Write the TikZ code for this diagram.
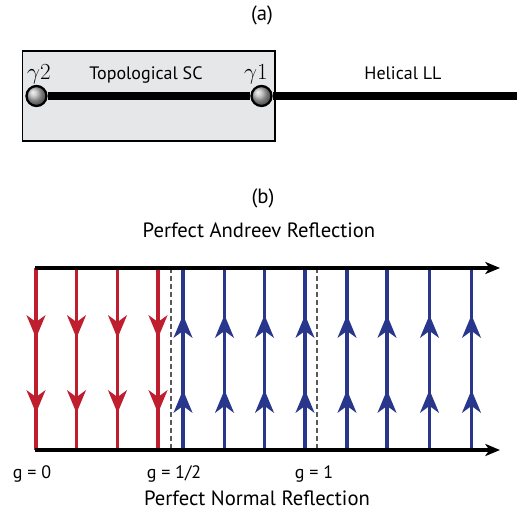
\documentclass[tikz,border=0pt]{standalone}
\usepackage{fontspec}
\setsansfont{PT Sans}
\definecolor{andreevred}{RGB}{190,30,45}
\definecolor{normalblue}{RGB}{40,55,140}
\definecolor{scgray}{RGB}{230,231,232}
\usetikzlibrary{arrows.meta}
\usetikzlibrary{decorations.markings}

\tikzset{
	label text/.style={font=\sffamily\fontsize{13.5}{16}\selectfont, inner sep=0pt, anchor=base},
	title text/.style={font=\sffamily\fontsize{15.5}{18}\selectfont, inner sep=0pt, anchor=base},
	gamma text/.style={font=\fontsize{17}{19}\selectfont, inner sep=0pt, anchor=base},
	majorana/.style={circle, draw=black, line width=1.7pt, minimum size=15pt, inner sep=0pt, shading=ball, ball color=gray!60},
	wire/.style={line width=6pt},
	axis/.style={line width=2.8pt, -{Stealth[length=11pt,width=9pt,inset=3pt]}},
	flowhead/.tip={Stealth[length=17pt,width=14pt,inset=5pt]},
	downflow/.style={andreevred, line width=2.8pt, postaction={decorate},
		decoration={markings, mark=at position 0.385 with {\arrow{flowhead}}, mark=at position 0.797 with {\arrow{flowhead}}}},
	upflow/.style={normalblue, line width=2.8pt, postaction={decorate},
		decoration={markings, mark=at position 0.33 with {\arrow{flowhead}}, mark=at position 0.742 with {\arrow{flowhead}}}},
	crossover/.style={gray!70!black, line width=0.8pt, dash pattern={on 3.5pt off 2.5pt}}
}

\begin{document}
\begin{tikzpicture}[x=0.75pt,y=0.75pt,yscale=-1,xscale=1]
	\useasboundingbox (0,0) rectangle (517,513);
	
	% Text Node
	\draw (262,21) node [title text] (capa) {(a)};
	%Shape: Rectangle [id:scbox]
	\draw [fill=scgray, line width=1.4pt] (22.5,51) rectangle (275,141);
	%Majorana end states
	\draw (36.5,96) node [majorana] (gam2) {};
	\draw (261.5,96) node [majorana] (gam1) {};
	\coordinate (llend) at (517,96);
	%Straight Lines [id:wire]
	\draw [wire] (gam2) -- (gam1) -- (llend);
	% Text Node
	\draw (39,80) node [gamma text] (lab2) {$\gamma 2$};
	% Text Node
	\draw (256,80) node [gamma text] (lab1) {$\gamma 1$};
	% Text Node
	\draw (146,80) node [label text] (sc) {Topological SC};
	% Text Node
	\draw (403,80) node [label text] (ll) {Helical LL};
	
	% Text Node
	\draw (263,204) node [title text] (capb) {(b)};
	% Text Node
	\draw (259,238) node [title text] (andreev) {Perfect Andreev Reflection};
	
	%Dashed Lines [id:gcross]
	\draw [crossover] (171,268) -- (171,450);
	\draw [crossover] (317,268) -- (317,450);
	%Red Lines [id:g0]
	\foreach \x [count=\i] in {36,76.5,117.5,158} {
		\coordinate (rtop\i) at (\x,268);
		\coordinate (rbot\i) at (\x,450);
		\draw [downflow] (rtop\i) -- (rbot\i);
	}
	%Blue Lines [id:g1]
	\foreach \x [count=\i] in {183,224.5,264.5,305,347,387,429.5,471.5} {
		\coordinate (btop\i) at (\x,268);
		\coordinate (bbot\i) at (\x,450);
		\draw [upflow] (bbot\i) -- (btop\i);
	}
	%Shape: Axis 2D [id:axes]
	\coordinate (topstart) at (35,268);
	\coordinate (topend) at (500,268);
	\coordinate (botstart) at (35,450);
	\coordinate (botend) at (500,450);
	\draw [axis] (topstart) -- (topend);
	\draw [axis] (botstart) -- (botend);
	
	% Text Node
	\draw (32,478) node [label text] (g0) {g = 0};
	% Text Node
	\draw (174,478) node [label text] (ghalf) {g = 1/2};
	% Text Node
	\draw (314,478) node [label text] (g1) {g = 1};
	% Text Node
	\draw (257,505) node [title text] (normal) {Perfect Normal Reflection};
	
\end{tikzpicture}
\end{document}
